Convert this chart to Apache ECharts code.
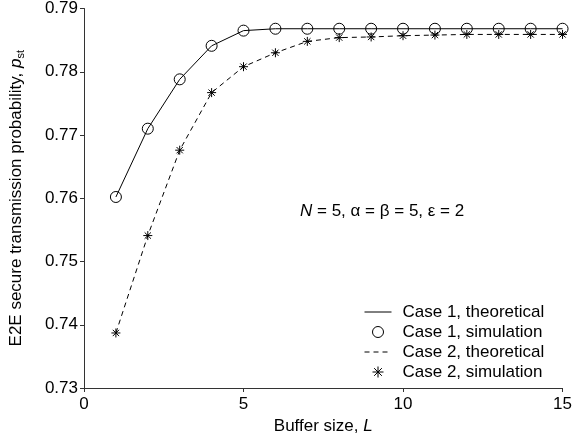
<!DOCTYPE html>
<html>
<head>
<meta charset="utf-8">
<script src="https://cdn.jsdelivr.net/npm/echarts@6/dist/echarts.min.js"></script>
<style>
  html, body { margin: 0; padding: 0; background: #fff; }
  #chart { width: 575px; height: 443px; }
</style>
</head>
<body>
<div id="chart"></div>
<script>
// buffer size L
var bufferSize = [1, 2, 3, 4, 5, 6, 7, 8, 9, 10, 11, 12, 13, 14, 15];
// case 1
var case1Theory = [0.7602, 0.7710, 0.7788, 0.7841, 0.7865, 0.7868, 0.7868, 0.7868, 0.7868, 0.7868, 0.7868, 0.7868, 0.7868, 0.7868, 0.7868];
var case1Sim    = [0.7602, 0.7710, 0.7788, 0.7841, 0.7865, 0.7868, 0.7868, 0.7868, 0.7868, 0.7868, 0.7868, 0.7868, 0.7868, 0.7868, 0.7868];
// case 2
var case2Theory = [0.7387, 0.7541, 0.7676, 0.7767, 0.7808, 0.7830, 0.7848, 0.7854, 0.7855, 0.7857, 0.7858, 0.7859, 0.7859, 0.7859, 0.7859];
var case2Sim    = [0.7387, 0.7541, 0.7676, 0.7767, 0.7808, 0.7830, 0.7848, 0.7854, 0.7855, 0.7857, 0.7858, 0.7859, 0.7859, 0.7859, 0.7859];

var seriesNames = ['Case 1, theoretical', 'Case 1, simulation', 'Case 2, theoretical', 'Case 2, simulation'];

function pairs(ys) {
  return bufferSize.map(function (x, i) { return [x, ys[i]]; });
}

var font = 'Liberation Sans, Arial, Helvetica, sans-serif';
var asterisk = 'path://M0,-10L0,10M-10,0L10,0M-7,-7L7,7M-7,7L7,-7';

var chart = echarts.init(document.getElementById('chart'));
var option = {
  animation: false,
  textStyle: { fontFamily: font },
  grid: { left: 81, right: 10, top: 7, bottom: 55 },
  legend: {
    orient: 'vertical',
    left: 359,
    top: 297,
    itemWidth: 27,
    itemHeight: 11,
    itemGap: 0,
    data: [
      { name: seriesNames[0], itemStyle: { opacity: 0 }, lineStyle: { width: 1 } },
      { name: seriesNames[1], itemStyle: { borderWidth: 1 } },
      { name: seriesNames[2], itemStyle: { opacity: 0 }, lineStyle: { width: 1 } },
      { name: seriesNames[3], itemStyle: { borderWidth: 1 } }
    ],
    textStyle: { fontFamily: font, fontSize: 17, color: '#000', lineHeight: 20, padding: [0, 0, 0, 6] }
  },
  xAxis: {
    type: 'value',
    min: 0, max: 15, interval: 5,
    name: '{n|Buffer size, }{i|L}',
    nameLocation: 'middle',
    nameGap: 30,
    nameTextStyle: {
      rich: {
        n: { fontFamily: font, fontSize: 17, color: '#000' },
        i: { fontFamily: font, fontSize: 17, color: '#000', fontStyle: 'italic' }
      }
    },
    axisLine: { lineStyle: { color: '#333', width: 1 } },
    axisTick: { inside: false, length: 4, lineStyle: { color: '#333' } },
    axisLabel: { fontFamily: font, fontSize: 17, color: '#000', margin: 8 },
    splitLine: { show: false }
  },
  yAxis: {
    type: 'value',
    min: 0.73, max: 0.79, interval: 0.01,
    name: '{n|E2E secure transmission probability, }{i|p}{s|st}',
    nameLocation: 'middle',
    nameGap: 58,
    nameTextStyle: {
      rich: {
        n: { fontFamily: font, fontSize: 17, color: '#000' },
        i: { fontFamily: font, fontSize: 17, color: '#000', fontStyle: 'italic' },
        s: { fontFamily: font, fontSize: 11, color: '#000', padding: [8, 0, 0, 0] }
      }
    },
    axisLine: { show: true, lineStyle: { color: '#333', width: 1 } },
    axisTick: { show: true, inside: false, length: 4, lineStyle: { color: '#333' } },
    axisLabel: {
      fontFamily: font, fontSize: 17, color: '#000', margin: 6,
      formatter: function (v) { return v.toFixed(2); }
    },
    splitLine: { show: false }
  },
  graphic: [{
    type: 'text',
    left: 300,
    top: 203,
    style: {
      text: '{i|N} = 5, α = β = 5, ε = 2',
      font: '17px ' + font,
      fill: '#000',
      rich: {
        i: { fontStyle: 'italic', fontSize: 17, fontFamily: font }
      }
    }
  }],
  series: [
    {
      name: seriesNames[0],
      type: 'line',
      data: pairs(case1Theory),
      symbol: 'none',
      lineStyle: { color: '#000', width: 1, type: 'solid' },
      itemStyle: { color: '#000' },
      z: 2
    },
    {
      name: seriesNames[1],
      type: 'scatter',
      data: pairs(case1Sim),
      symbol: 'circle',
      symbolSize: 11,
      itemStyle: { color: 'transparent', borderColor: '#000', borderWidth: 1, opacity: 1 },
      z: 3
    },
    {
      name: seriesNames[2],
      type: 'line',
      data: pairs(case2Theory),
      symbol: 'none',
      lineStyle: { color: '#000', width: 1, type: [5, 4] },
      itemStyle: { color: '#000' },
      z: 2
    },
    {
      name: seriesNames[3],
      type: 'scatter',
      data: pairs(case2Sim),
      symbol: asterisk,
      symbolSize: 9,
      itemStyle: { color: 'transparent', borderColor: '#000', borderWidth: 1, opacity: 1 },
      z: 3
    }
  ]
};
chart.setOption(option);
</script>
</body>
</html>
